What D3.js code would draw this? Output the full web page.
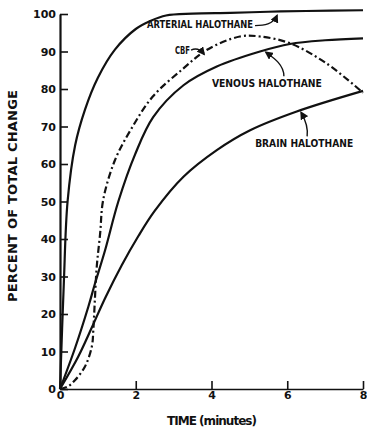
<!DOCTYPE html>
<html>
<head>
<meta charset="utf-8">
<script src="https://cdn.jsdelivr.net/npm/d3@7/dist/d3.min.js"></script>
<style>
  html, body { margin: 0; padding: 0; background: #fff; }
  svg { display: block; }
  text { font-family: "DejaVu Sans", "Liberation Sans", sans-serif; font-weight: bold; fill: #111; }
</style>
</head>
<body>
<svg id="chart" width="367" height="428"></svg>
<script>
// time in minutes, percent of total change
var arterialT = [0, 0.1, 0.2, 0.4, 0.66, 1.0, 1.45, 2.0, 2.4, 2.8, 3.5, 4.5, 5.5, 6.5, 8];
var arterialV = [0, 28, 50, 65, 74.5, 83, 90.5, 96, 98.2, 99.6, 100.1, 100.3, 100.6, 100.8, 101];

var venousT = [0, 0.4, 0.75, 0.92, 1.19, 1.54, 1.98, 2.46, 3.26, 4.14, 5.28, 6.07, 7, 8];
var venousV = [0, 11, 22, 28, 37, 50, 62.5, 72.5, 81, 86, 90, 92, 93, 93.5];

var brainT = [0, 0.48, 0.84, 1.19, 1.63, 2.07, 2.5, 3.26, 4.14, 5.02, 6.25, 8];
var brainV = [0, 8.6, 16.4, 24.2, 33, 40.8, 47.5, 56.6, 63.7, 69, 74, 79.5];

var cbfT = [0, 0.2, 0.4, 0.66, 0.84, 0.88, 0.92, 0.97, 1.06, 1.14, 1.45, 1.89, 2.45, 3.26, 3.87, 4.75, 5.28, 6.07, 7.04, 8];
var cbfV = [0, 0.6, 2.4, 6, 11.3, 15.7, 23.7, 32.6, 41.5, 50.4, 61, 69.5, 78, 85.5, 90.4, 94, 94, 92.2, 86.8, 79];

var xTicks = [0, 2, 4, 6, 8];
var yTicks = [0, 10, 20, 30, 40, 50, 60, 70, 80, 90, 100];

var svg = d3.select('#chart');

var x = d3.scaleLinear().domain([0, 8]).range([60, 363]);
var y = d3.scaleLinear().domain([0, 100]).range([389, 14]);

function zip (ts, vs) {
  return ts.map(function (t, i) { return [t, vs[i]]; });
}

// value of a series at time t (linear between read points)
function valueAt (ts, vs, t) {
  return d3.scaleLinear().domain(ts).range(vs)(t);
}

var line = d3.line()
  .x(function (d) { return x(d[0]); })
  .y(function (d) { return y(d[1]); })
  .curve(d3.curveCatmullRom.alpha(0.5));

// axes
svg.append('g')
  .attr('class', 'y-axis')
  .attr('transform', 'translate(' + x(0) + ',0)')
  .call(d3.axisLeft(y).tickValues(yTicks).tickSizeInner(-8).tickSizeOuter(0).tickPadding(4))
  .call(function (g) {
    g.select('.domain').attr('stroke', '#111').attr('stroke-width', 2.2);
    g.selectAll('.tick line').attr('stroke', '#111').attr('stroke-width', 1.6);
    g.selectAll('.tick text').style('font-size', '11px').attr('fill', '#111');
  });

svg.append('g')
  .attr('class', 'x-axis')
  .attr('transform', 'translate(0,' + y(0) + ')')
  .call(d3.axisBottom(x).tickValues(xTicks).tickSizeInner(-8).tickSizeOuter(0).tickPadding(2))
  .call(function (g) {
    g.select('.domain').attr('stroke', '#111').attr('stroke-width', 1.6);
    g.selectAll('.tick line').attr('stroke', '#111').attr('stroke-width', 1.6);
    g.selectAll('.tick text').style('font-size', '11px').attr('fill', '#111');
  });

// axis titles
svg.append('text')
  .attr('x', 212)
  .attr('y', 425)
  .attr('text-anchor', 'middle')
  .attr('textLength', 90)
  .style('font-size', '12px')
  .text('TIME (minutes)');

svg.append('text')
  .attr('transform', 'translate(17,196) rotate(-90)')
  .attr('text-anchor', 'middle')
  .attr('textLength', 212)
  .style('font-size', '13px')
  .text('PERCENT OF TOTAL CHANGE');

// curves
var series = [
  { name: 'arterial', data: zip(arterialT, arterialV), dash: null },
  { name: 'venous', data: zip(venousT, venousV), dash: null },
  { name: 'brain', data: zip(brainT, brainV), dash: null },
  { name: 'cbf', data: zip(cbfT, cbfV), dash: '7,3,2,3' }
];

svg.selectAll('.curve')
  .data(series)
  .enter()
  .append('path')
  .attr('class', 'curve')
  .attr('fill', 'none')
  .attr('stroke', '#111')
  .attr('stroke-width', 2.2)
  .attr('stroke-dasharray', function (d) { return d.dash; })
  .attr('d', function (d) { return line(d.data); });

// annotations
svg.append('defs').append('marker')
  .attr('id', 'head')
  .attr('viewBox', '0 0 10 10')
  .attr('refX', 8)
  .attr('refY', 5)
  .attr('markerWidth', 6)
  .attr('markerHeight', 6)
  .attr('orient', 'auto')
  .append('path')
  .attr('d', 'M0,0 L10,5 L0,10 z')
  .attr('fill', '#111');

var notes = [
  { text: 'ARTERIAL HALOTHANE', ts: arterialT, vs: arterialV, t: 5.73, tx: -130, ty: 16, len: 106,
    arrow: [[-22, 14], [-13, 14], [-4, 13], [0, 4]] },
  { text: 'CBF', ts: cbfT, vs: cbfV, t: 3.83, tx: -30, ty: 3, len: 15,
    arrow: [[-14, -1], [-10, -3], [-5, -2], [-1, 3]] },
  { text: 'VENOUS HALOTHANE', ts: venousT, vs: venousV, t: 5.41, tx: -53, ty: 37, len: 110,
    arrow: [[19, 26], [19, 14], [8, 7], [1, 2]] },
  { text: 'BRAIN HALOTHANE', ts: brainT, vs: brainV, t: 6.34, tx: -45, ty: 37, len: 98,
    arrow: [[7, 26], [8, 18], [5, 9], [1, 2]] }
];

var note = svg.selectAll('.note')
  .data(notes)
  .enter()
  .append('g')
  .attr('class', 'note')
  .attr('transform', function (d) {
    return 'translate(' + x(d.t) + ',' + y(valueAt(d.ts, d.vs, d.t)) + ')';
  });

note.append('text')
  .attr('x', function (d) { return d.tx; })
  .attr('y', function (d) { return d.ty; })
  .attr('textLength', function (d) { return d.len; })
  .attr('lengthAdjust', 'spacingAndGlyphs')
  .style('font-size', '10px')
  .text(function (d) { return d.text; });

note.append('path')
  .attr('fill', 'none')
  .attr('stroke', '#111')
  .attr('stroke-width', 1.4)
  .attr('marker-end', 'url(#head)')
  .attr('d', function (d) {
    var p = d3.path();
    var a = d.arrow;
    p.moveTo(a[0][0], a[0][1]);
    p.bezierCurveTo(a[1][0], a[1][1], a[2][0], a[2][1], a[3][0], a[3][1]);
    return p.toString();
  });
</script>
</body>
</html>
